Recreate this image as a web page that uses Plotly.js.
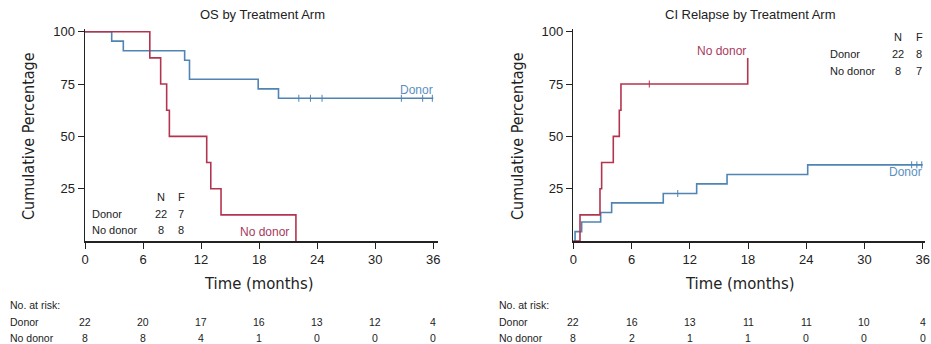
<!DOCTYPE html>
<html>
<head>
<meta charset="utf-8">
<script src="https://cdn.plot.ly/plotly-3.0.1.min.js"></script>
<style>html,body{margin:0;padding:0;background:#fff;}#chart{width:931px;height:344px;}</style>
</head>
<body>
<div id="chart"></div>
<script>
// ---- Data ----
const tickMonths = [0, 6, 12, 18, 24, 30, 36];

// OS by treatment arm (Kaplan-Meier)
const osDonorT = [0, 2.76, 3.96, 10.3, 10.8, 17.9, 20.0, 36];
const osDonorS = [100, 95.5, 90.9, 86.4, 77.3, 72.7, 68.2, 68.2];
const osDonorCensT = [22.1, 23.3, 24.5, 32.7, 34.9, 35.9];
const osDonorCensS = [68.2, 68.2, 68.2, 68.2, 68.2, 68.2];
const osNoDonorT = [0, 6.7, 7.82, 8.44, 8.72, 12.58, 13.0, 14.06, 21.8];
const osNoDonorS = [100, 87.5, 75, 62.5, 50, 37.5, 25, 12.5, 0];

// CI relapse by treatment arm
const ciDonorT = [0, 0.18, 0.86, 2.82, 3.95, 9.27, 12.71, 15.84, 24.15, 36];
const ciDonorS = [0, 4.5, 9.1, 13.6, 18.2, 22.7, 27.3, 31.8, 36.4, 36.4];
const ciDonorCensT = [10.76, 34.86, 35.4, 35.9];
const ciDonorCensS = [22.7, 36.4, 36.4, 36.4];
const ciNoDonorT = [0, 0.69, 2.75, 2.92, 4.12, 4.74, 4.91, 17.97];
const ciNoDonorS = [0, 12.5, 25, 37.5, 50, 62.5, 75, 87.5];
const ciNoDonorCensT = [7.83];
const ciNoDonorCensS = [75];

// Numbers at risk
const osRiskDonor = [22, 20, 17, 16, 13, 12, 4];
const osRiskNoDonor = [8, 8, 4, 1, 0, 0, 0];
const ciRiskDonor = [22, 16, 13, 11, 11, 10, 4];
const ciRiskNoDonor = [8, 2, 1, 1, 0, 0, 0];

// N / F tables
const osNF = {Donor: [22, 7], "No donor": [8, 8]};
const ciNF = {Donor: [22, 8], "No donor": [8, 7]};

// ---- Styles ----
const BLUE = '#4f84b3', RED = '#b3344f';
const BLUE_TXT = '#5b8fc0', RED_TXT = '#a83a60';
const FONT = 'Liberation Sans, Arial, sans-serif';
const NARROW = '"DejaVu Sans Condensed", "Liberation Sans Narrow", "Arial Narrow", sans-serif';
const W = 931, H = 344;
const px = x => x / W;
const py = y => 1 - y / H;

function stepTrace(x, y, color, xa, ya) {
  return {x, y, xaxis: xa, yaxis: ya, type: 'scatter', mode: 'lines',
    line: {shape: 'hv', color, width: 1.6}, hoverinfo: 'skip', showlegend: false};
}
function censTrace(x, y, color, xa, ya) {
  return {x, y, xaxis: xa, yaxis: ya, type: 'scatter', mode: 'markers',
    marker: {symbol: 'line-ns', size: 5, line: {color, width: 1}}, hoverinfo: 'skip', showlegend: false};
}

const data = [
  stepTrace(osDonorT, osDonorS, BLUE, 'x', 'y'),
  censTrace(osDonorCensT, osDonorCensS, BLUE, 'x', 'y'),
  stepTrace(osNoDonorT, osNoDonorS, RED, 'x', 'y'),
  stepTrace(ciDonorT, ciDonorS, BLUE, 'x2', 'y2'),
  censTrace(ciDonorCensT, ciDonorCensS, BLUE, 'x2', 'y2'),
  stepTrace(ciNoDonorT, ciNoDonorS, RED, 'x2', 'y2'),
  censTrace(ciNoDonorCensT, ciNoDonorCensS, RED, 'x2', 'y2')
];

const xBase = {
  tickmode: 'array', tickvals: tickMonths, ticktext: tickMonths.map(String),
  ticks: 'outside', ticklen: 6, tickwidth: 1, tickcolor: '#222',
  showline: true, linecolor: '#222', linewidth: 1.5, showgrid: false, zeroline: false,
  tickfont: {family: FONT, size: 13, color: '#222'}, fixedrange: true
};
const yBase = {
  range: [0, 101.5], tickmode: 'array', tickvals: [25, 50, 75, 100],
  ticks: 'outside', ticklen: 6, tickwidth: 1, tickcolor: '#222',
  showline: true, linecolor: '#222', linewidth: 1.5, showgrid: false, zeroline: false,
  tickfont: {family: FONT, size: 13, color: '#222'}, fixedrange: true,
  domain: [py(241) , py(28.6)]
};

const ann = [];
function txt(x, y, text, opts) {
  ann.push(Object.assign({x, y, text, showarrow: false, xref: 'paper', yref: 'paper',
    xanchor: 'center', yanchor: 'middle', font: {family: FONT, size: 11, color: '#222'}}, opts || {}));
}

// Titles
txt(px(262), py(15), 'OS by Treatment Arm', {font: {family: FONT, size: 13, color: '#222'}});
txt(px(750), py(15), 'CI Relapse by Treatment Arm', {font: {family: FONT, size: 13, color: '#222'}});
// Axis titles
txt(px(28), py(136), 'Cumulative Percentage', {textangle: -90, font: {family: NARROW, size: 16, color: '#222'}});
txt(px(517), py(136), 'Cumulative Percentage', {textangle: -90, font: {family: NARROW, size: 16, color: '#222'}});
txt(px(259), py(283), 'Time (months)', {font: {family: NARROW, size: 16.5, color: '#222'}});
txt(px(740), py(283), 'Time (months)', {font: {family: NARROW, size: 16.5, color: '#222'}});

// Curve labels
txt(px(416), py(90), 'Donor', {font: {family: FONT, size: 12, color: BLUE_TXT}});
txt(px(264), py(232), 'No donor', {font: {family: FONT, size: 12, color: RED_TXT}});
txt(px(721), py(51), 'No donor', {font: {family: FONT, size: 12, color: RED_TXT}});
txt(px(905), py(172), 'Donor', {font: {family: FONT, size: 12, color: BLUE_TXT}});

// N/F tables
function nfTable(tbl, xLab, xN, xF, yHead, dy) {
  txt(px(xN), py(yHead), 'N');
  txt(px(xF), py(yHead), 'F');
  Object.keys(tbl).forEach((k, i) => {
    const y = yHead + dy * (i + 1);
    txt(px(xLab), py(y), k, {xanchor: 'left'});
    txt(px(xN), py(y), String(tbl[k][0]));
    txt(px(xF), py(y), String(tbl[k][1]));
  });
}
nfTable(osNF, 90, 160.5, 181, 197, 16.5);
nfTable(ciNF, 828, 897.5, 919, 37.5, 16.5);

// Risk tables
const RF = {family: FONT, size: 10.5, color: '#222'};
function riskTable(xLab, xa, donor, nodonor) {
  txt(px(xLab), py(305), 'No. at risk:', {xanchor: 'left', font: RF});
  txt(px(xLab), py(322), 'Donor', {xanchor: 'left', font: RF});
  txt(px(xLab), py(338), 'No donor', {xanchor: 'left', font: RF});
  tickMonths.forEach((t, i) => {
    ann.push({x: t, y: py(322), xref: xa, yref: 'paper', text: String(donor[i]), showarrow: false,
      xanchor: 'center', yanchor: 'middle', font: RF});
    ann.push({x: t, y: py(338), xref: xa, yref: 'paper', text: String(nodonor[i]), showarrow: false,
      xanchor: 'center', yanchor: 'middle', font: RF});
  });
}
riskTable(8, 'x', osRiskDonor, osRiskNoDonor);
riskTable(497, 'x2', ciRiskDonor, ciRiskNoDonor);

const layout = {
  width: W, height: H, margin: {l: 0, r: 0, t: 0, b: 0},
  paper_bgcolor: '#fff', plot_bgcolor: '#fff', showlegend: false,
  xaxis: Object.assign({}, xBase, {range: [0, 36.5], domain: [px(85), px(85 + 36.5 * 9.675)], anchor: 'y'}),
  yaxis: Object.assign({}, yBase, {anchor: 'x'}),
  xaxis2: Object.assign({}, xBase, {range: [0, 36.2], domain: [px(573.3), px(573.3 + 36.2 * 9.706)], anchor: 'y2'}),
  yaxis2: Object.assign({}, yBase, {anchor: 'x2'}),
  annotations: ann
};

Plotly.newPlot('chart', data, layout, {displayModeBar: false, staticPlot: true});
</script>
</body>
</html>
